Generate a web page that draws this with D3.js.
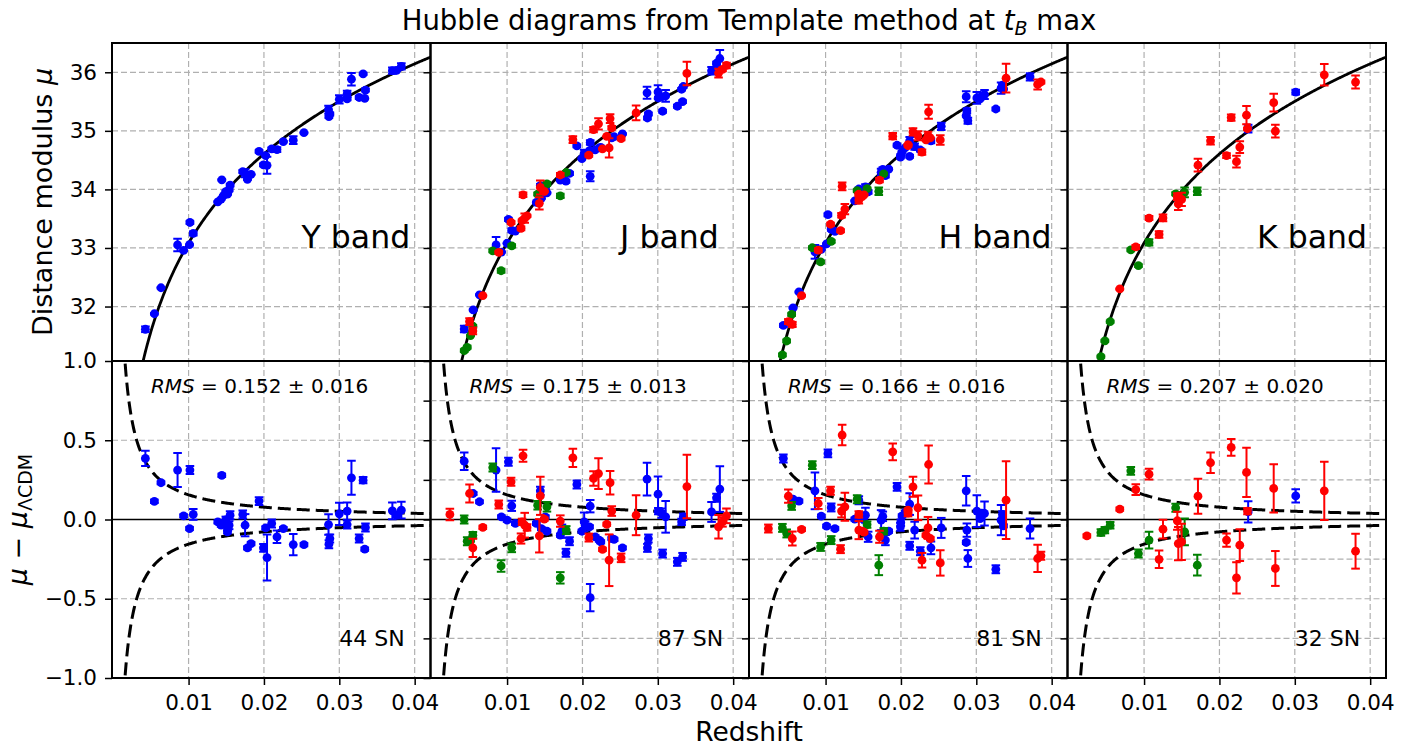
<!DOCTYPE html>
<html>
<head>
<meta charset="utf-8">
<script src="https://cdn.jsdelivr.net/npm/d3@7"></script>
<style>
  body { margin: 0; background: #fff; }
  text { font-family: "DejaVu Sans", sans-serif; fill: #000; }
</style>
</head>
<body>
<svg id="fig" width="1415" height="748"></svg>
<script>
// ---- data: [redshift, mu - mu_LCDM, error, colour] ----
const bandNames = ['Y band', 'J band', 'H band', 'K band'];
const rmsLabels = ['0.152 \u00b1 0.016', '0.175 \u00b1 0.013', '0.166 \u00b1 0.016', '0.207 \u00b1 0.020'];
const snCounts = [44, 87, 81, 32];
const xTicks = [0.01, 0.02, 0.03, 0.04];
const muTicks = [32, 33, 34, 35, 36];
const resTicksFirst = [-1, -0.5, 0, 0.5, 1];
const resTicksOther = [-1, -0.75, -0.5, -0.25, 0, 0.25, 0.5, 0.75, 1];

const bandY = [
  [0.00427, 0.385, 0.048, 'b'], [0.00546, 0.114, 0.01, 'b'], [0.00634, 0.232, 0.01, 'b'],
  [0.00854, 0.312, 0.107, 'b'], [0.01018, 0.312, 0.025, 'b'], [0.00934, 0.023, 0.01, 'b'],
  [0.01062, 0.032, 0.034, 'b'], [0.01013, -0.057, 0.01, 'b'], [0.01441, 0.278, 0.01, 'b'],
  [0.01388, -0.015, 0.01, 'b'], [0.01463, -0.025, 0.01, 'b'], [0.01516, -0.078, 0.01, 'b'],
  [0.01538, -0.036, 0.025, 'b'], [0.01551, 0.027, 0.025, 'b'], [0.01432, -0.036, 0.01, 'b'],
  [0.01494, -0.002, 0.02, 'b'], [0.0152, -0.06, 0.01, 'b'], [0.01719, 0.032, 0.025, 'b'],
  [0.0175, -0.036, 0.07, 'b'], [0.01781, -0.179, 0.01, 'b'], [0.01829, -0.152, 0.01, 'b'],
  [0.01935, 0.116, 0.025, 'b'], [0.01993, -0.179, 0.025, 'b'], [0.02041, -0.24, 0.145, 'b'],
  [0.02023, -0.053, 0.01, 'b'], [0.02103, -0.025, 0.025, 'b'], [0.02173, -0.109, 0.04, 'b'],
  [0.02257, -0.057, 0.01, 'b'], [0.02389, -0.158, 0.067, 'b'], [0.02531, -0.158, 0.01, 'b'],
  [0.02857, -0.032, 0.065, 'b'], [0.02875, -0.12, 0.025, 'b'], [0.02862, -0.156, 0.025, 'b'],
  [0.03, 0.036, 0.07, 'b'], [0.03104, 0.053, 0.055, 'b'], [0.03104, -0.032, 0.025, 'b'],
  [0.03161, 0.263, 0.107, 'b'], [0.03316, 0.248, 0.02, 'b'], [0.03263, -0.12, 0.025, 'b'],
  [0.03338, -0.187, 0.01, 'b'], [0.03347, -0.05, 0.025, 'b'], [0.03704, 0.055, 0.053, 'b'],
  [0.03823, 0.059, 0.053, 'b'], [0.0376, 0.027, 0.01, 'b']
];

const bandJ = [
  [0.00241, 0.032, 0.036, 'r'], [0.00502, 0.164, 0.057, 'r'], [0.00546, -0.179, 0.057, 'r'],
  [0.00678, -0.05, 0.01, 'r'], [0.0089, 0.095, 0.025, 'r'], [0.01053, 0.238, 0.025, 'r'],
  [0.01212, 0.402, 0.038, 'r'], [0.01185, -0.12, 0.032, 'r'], [0.01234, -0.036, 0.078, 'r'],
  [0.01199, -0.015, 0.02, 'r'], [0.01441, 0.149, 0.12, 'r'], [0.01428, -0.103, 0.105, 'r'],
  [0.01494, 0.002, 0.01, 'r'], [0.01706, -0.01, 0.036, 'r'], [0.01873, 0.389, 0.057, 'r'],
  [0.02147, 0.259, 0.046, 'r'], [0.02213, 0.29, 0.097, 'r'], [0.02367, 0.232, 0.074, 'r'],
  [0.02389, 0.053, 0.03, 'r'], [0.02323, -0.03, 0.01, 'r'], [0.02266, -0.189, 0.01, 'r'],
  [0.02354, -0.257, 0.163, 'r'], [0.02513, -0.242, 0.027, 'r'], [0.02085, -0.114, 0.025, 'r'],
  [0.02712, 0.027, 0.126, 'r'], [0.03386, 0.208, 0.2, 'r'], [0.03806, -0.046, 0.074, 'r'],
  [0.03858, -0.015, 0.03, 'r'], [0.03911, 0.023, 0.046, 'r'], [0.01265, -0.05, 0.02, 'r'],
  [0.00431, 0.0, 0.025, 'g'], [0.00471, -0.137, 0.025, 'g'], [0.00546, -0.099, 0.02, 'g'],
  [0.00515, -0.13, 0.01, 'g'], [0.0081, 0.328, 0.025, 'g'], [0.01062, -0.179, 0.027, 'g'],
  [0.00921, -0.293, 0.036, 'g'], [0.01406, 0.09, 0.027, 'g'], [0.01529, 0.08, 0.03, 'g'],
  [0.01785, -0.067, 0.025, 'g'], [0.01706, -0.368, 0.036, 'g'],
  [0.00431, 0.368, 0.055, 'b'], [0.0055, 0.164, 0.01, 'b'], [0.00634, 0.112, 0.01, 'b'],
  [0.00854, 0.312, 0.137, 'b'], [0.01018, 0.364, 0.025, 'b'], [0.01062, 0.086, 0.032, 'b'],
  [0.00925, 0.017, 0.01, 'b'], [0.01, -0.004, 0.01, 'b'], [0.0111, -0.025, 0.01, 'b'],
  [0.01441, 0.181, 0.025, 'b'], [0.01388, -0.025, 0.01, 'b'], [0.01507, 0.017, 0.01, 'b'],
  [0.01529, -0.074, 0.01, 'b'], [0.01728, -0.074, 0.042, 'b'], [0.01781, -0.21, 0.025, 'b'],
  [0.01829, -0.137, 0.025, 'b'], [0.01926, 0.221, 0.025, 'b'], [0.02023, -0.015, 0.059, 'b'],
  [0.01993, -0.074, 0.01, 'b'], [0.02103, 0.084, 0.039, 'b'], [0.02094, -0.046, 0.01, 'b'],
  [0.02169, -0.109, 0.01, 'b'], [0.02244, -0.141, 0.01, 'b'], [0.02103, -0.493, 0.086, 'b'],
  [0.02389, -0.12, 0.01, 'b'], [0.0242, -0.126, 0.01, 'b'], [0.02531, -0.179, 0.01, 'b'],
  [0.02857, 0.255, 0.103, 'b'], [0.02875, -0.12, 0.025, 'b'], [0.02862, -0.179, 0.025, 'b'],
  [0.03003, 0.16, 0.112, 'b'], [0.03007, 0.053, 0.02, 'b'], [0.03104, 0.017, 0.1, 'b'],
  [0.03064, -0.215, 0.025, 'b'], [0.03259, -0.267, 0.025, 'b'], [0.03329, -0.236, 0.025, 'b'],
  [0.03316, -0.015, 0.02, 'b'], [0.03338, 0.017, 0.02, 'b'], [0.03713, 0.048, 0.063, 'b'],
  [0.03779, 0.137, 0.025, 'b'], [0.03823, 0.192, 0.144, 'b'], [0.01454, -0.057, 0.01, 'b'],
  [0.01706, -0.099, 0.01, 'b'], [0.02036, -0.036, 0.025, 'b'], [0.02222, -0.13, 0.01, 'b'],
  [0.03051, 0.04, 0.03, 'b']
];

const bandH = [
  [0.00241, -0.057, 0.025, 'r'], [0.00506, 0.147, 0.042, 'r'], [0.00559, -0.12, 0.044, 'r'],
  [0.00682, -0.063, 0.01, 'r'], [0.00903, 0.101, 0.034, 'r'], [0.01066, 0.181, 0.025, 'r'],
  [0.0122, 0.533, 0.065, 'r'], [0.01212, 0.053, 0.04, 'r'], [0.01256, 0.08, 0.088, 'r'],
  [0.01199, -0.187, 0.025, 'r'], [0.01441, 0.032, 0.02, 'r'], [0.01441, -0.067, 0.057, 'r'],
  [0.01485, -0.074, 0.01, 'r'], [0.01715, -0.109, 0.038, 'r'], [0.01891, 0.427, 0.053, 'r'],
  [0.0216, 0.206, 0.063, 'r'], [0.02094, 0.059, 0.01, 'r'], [0.02226, 0.074, 0.078, 'r'],
  [0.02367, 0.347, 0.12, 'r'], [0.02359, -0.053, 0.069, 'r'], [0.02332, -0.099, 0.01, 'r'],
  [0.02389, -0.12, 0.01, 'r'], [0.02279, -0.257, 0.046, 'r'], [0.02522, -0.274, 0.08, 'r'],
  [0.03395, 0.122, 0.245, 'r'], [0.03814, -0.246, 0.086, 'r'], [0.03858, -0.229, 0.025, 'r'],
  [0.0151, -0.08, 0.01, 'r'], [0.02094, 0.04, 0.02, 'r'],
  [0.00427, -0.053, 0.025, 'g'], [0.00484, -0.088, 0.025, 'g'], [0.0055, 0.086, 0.025, 'g'],
  [0.00824, 0.343, 0.025, 'g'], [0.00934, -0.173, 0.025, 'g'], [0.01075, -0.13, 0.025, 'g'],
  [0.01419, 0.128, 0.025, 'g'], [0.01551, -0.032, 0.02, 'g'], [0.01772, -0.074, 0.02, 'g'],
  [0.01706, -0.288, 0.063, 'g'],
  [0.0044, 0.385, 0.025, 'b'], [0.00568, 0.128, 0.01, 'b'], [0.00647, 0.116, 0.01, 'b'],
  [0.00859, 0.181, 0.116, 'b'], [0.01031, 0.417, 0.025, 'b'], [0.01075, 0.076, 0.025, 'b'],
  [0.00943, 0.021, 0.01, 'b'], [0.01013, -0.042, 0.01, 'b'], [0.01124, -0.057, 0.01, 'b'],
  [0.01441, 0.122, 0.025, 'b'], [0.01388, 0.002, 0.01, 'b'], [0.01529, 0.027, 0.047, 'b'],
  [0.01565, -0.109, 0.032, 'b'], [0.01737, -0.004, 0.063, 'b'], [0.01794, -0.13, 0.032, 'b'],
  [0.01838, -0.074, 0.01, 'b'], [0.01948, 0.206, 0.025, 'b'], [0.02015, 0.023, 0.01, 'b'],
  [0.01993, -0.046, 0.025, 'b'], [0.02116, 0.097, 0.068, 'b'], [0.02116, -0.166, 0.025, 'b'],
  [0.02182, -0.067, 0.053, 'b'], [0.02257, -0.2, 0.025, 'b'], [0.02398, -0.179, 0.04, 'b'],
  [0.02535, -0.053, 0.063, 'b'], [0.02866, 0.181, 0.093, 'b'], [0.02875, -0.067, 0.042, 'b'],
  [0.02866, -0.145, 0.01, 'b'], [0.02888, -0.246, 0.053, 'b'], [0.03007, 0.053, 0.1, 'b'],
  [0.03109, 0.038, 0.076, 'b'], [0.03051, 0.006, 0.01, 'b'], [0.03259, -0.314, 0.025, 'b'],
  [0.03329, -0.004, 0.095, 'b'], [0.03347, 0.032, 0.02, 'b'], [0.03713, -0.057, 0.063, 'b'],
  [0.0336, -0.04, 0.01, 'b'], [0.015, 0.002, 0.01, 'b'], [0.01759, 0.02, 0.03, 'b'],
  [0.02058, 0.046, 0.01, 'b'], [0.03073, 0.04, 0.02, 'b'], [0.01998, -0.02, 0.02, 'b']
];

const bandK = [
  [0.00241, -0.103, 0.01, 'r'], [0.00678, 0.065, 0.01, 'r'], [0.0089, 0.189, 0.034, 'r'],
  [0.01066, 0.286, 0.034, 'r'], [0.01199, -0.251, 0.055, 'r'], [0.01251, -0.061, 0.059, 'r'],
  [0.01441, -0.008, 0.057, 'r'], [0.01454, -0.152, 0.105, 'r'], [0.01498, -0.141, 0.114, 'r'],
  [0.01715, 0.147, 0.11, 'r'], [0.01882, 0.358, 0.065, 'r'], [0.02094, -0.13, 0.042, 'r'],
  [0.02156, 0.455, 0.053, 'r'], [0.0227, -0.162, 0.1, 'r'], [0.02226, -0.368, 0.099, 'r'],
  [0.02359, 0.297, 0.155, 'r'], [0.02372, 0.053, 0.02, 'r'], [0.0272, 0.196, 0.152, 'r'],
  [0.02742, -0.309, 0.11, 'r'], [0.03391, 0.181, 0.184, 'r'], [0.03806, -0.2, 0.11, 'r'],
  [0.00427, -0.082, 0.02, 'g'], [0.0048, -0.067, 0.02, 'g'], [0.0055, -0.036, 0.02, 'g'],
  [0.00824, 0.307, 0.025, 'g'], [0.00925, -0.215, 0.025, 'g'], [0.01066, -0.13, 0.053, 'g'],
  [0.01419, 0.074, 0.025, 'g'], [0.01538, -0.078, 0.084, 'g'], [0.01706, -0.288, 0.065, 'g'],
  [0.02381, 0.048, 0.067, 'b'], [0.03012, 0.149, 0.042, 'b']
];

const bands = [bandY, bandJ, bandH, bandK];
const colours = { b: '#0000ff', g: '#008000', r: '#ff0000' };
const drawOrder = ['b', 'g', 'r'];

// LCDM low-z model and peculiar velocity envelope
const C_KMS = 299792.458, H0 = 73, Q0 = -0.55, SIGMA_V = 215;
const muModel = z => 5 * Math.log10(C_KMS * z / H0 * (1 + (1 - Q0) / 2 * z)) + 25;
const sigmaPec = z => 5 / Math.LN10 * SIGMA_V / (C_KMS * z);
const zGrid = d3.range(0.0008, 0.0426, 0.0001);

// ---- layout ----
const svg = d3.select('#fig');
const pLeft = 112, pRight = 1386, pTop = 43, pMid = 361, pBottom = 678;
const colW = (pRight - pLeft) / 4;

const yTop = d3.scaleLinear().domain([31.07, 36.5]).range([pMid, pTop]);
const yBot = d3.scaleLinear().domain([-1, 1]).range([pBottom, pMid]);

const gridStyle = sel => sel.attr('stroke', '#b0b0b0').attr('stroke-width', 1.2)
  .attr('stroke-dasharray', '6,3').attr('fill', 'none');

function styleAxis(g) {
  g.select('.domain').remove();
  g.selectAll('.tick line').attr('stroke', '#000').attr('stroke-width', 1.5);
  g.selectAll('.tick text').attr('font-family', '"DejaVu Sans", sans-serif')
    .attr('font-size', '21.5px').attr('fill', '#000');
}

function drawPoints(g, data, x, y, valueOf) {
  const sorted = drawOrder.flatMap(c => data.filter(d => d[3] === c));
  const pt = g.append('g').selectAll('g').data(sorted).enter().append('g')
    .attr('stroke', d => colours[d[3]]).attr('fill', d => colours[d[3]]);
  pt.append('line')
    .attr('x1', d => x(d[0])).attr('x2', d => x(d[0]))
    .attr('y1', d => y(valueOf(d) - d[2])).attr('y2', d => y(valueOf(d) + d[2]))
    .attr('stroke-width', 2);
  [-1, 1].forEach(s => {
    pt.append('line')
      .attr('x1', d => x(d[0]) - 4.3).attr('x2', d => x(d[0]) + 4.3)
      .attr('y1', d => y(valueOf(d) + s * d[2])).attr('y2', d => y(valueOf(d) + s * d[2]))
      .attr('stroke-width', 2);
  });
  pt.append('circle')
    .attr('cx', d => x(d[0])).attr('cy', d => y(valueOf(d)))
    .attr('r', 4.4).attr('stroke', 'none');
}

bands.forEach((data, i) => {
  const x0 = pLeft + i * colW;
  const x = d3.scaleLinear().domain([-0.00016, 0.0421]).range([x0, x0 + colW]);
  const resTicks = i === 0 ? resTicksFirst : resTicksOther;

  const defs = svg.append('defs');
  defs.append('clipPath').attr('id', `clipT${i}`).append('rect')
    .attr('x', x0).attr('y', pTop).attr('width', colW).attr('height', pMid - pTop);
  defs.append('clipPath').attr('id', `clipB${i}`).append('rect')
    .attr('x', x0).attr('y', pMid).attr('width', colW).attr('height', pBottom - pMid);

  // ---------- upper panel: Hubble diagram ----------
  const gt = svg.append('g').attr('clip-path', `url(#clipT${i})`);
  gt.selectAll('.gx').data(xTicks).enter().append('line')
    .attr('x1', d => x(d)).attr('x2', d => x(d)).attr('y1', pTop).attr('y2', pMid).call(gridStyle);
  gt.selectAll('.gy').data(muTicks).enter().append('line')
    .attr('x1', x0).attr('x2', x0 + colW).attr('y1', d => yTop(d)).attr('y2', d => yTop(d)).call(gridStyle);
  gt.append('path').datum(zGrid)
    .attr('d', d3.line().x(z => x(z)).y(z => yTop(muModel(z))))
    .attr('fill', 'none').attr('stroke', '#000').attr('stroke-width', 2.8);
  drawPoints(gt, data, x, yTop, d => muModel(d[0]) + d[1]);

  // ---------- lower panel: residuals ----------
  const gb = svg.append('g').attr('clip-path', `url(#clipB${i})`);
  gb.selectAll('.gx').data(xTicks).enter().append('line')
    .attr('x1', d => x(d)).attr('x2', d => x(d)).attr('y1', pMid).attr('y2', pBottom).call(gridStyle);
  gb.selectAll('.gy').data(resTicks.filter(v => Math.abs(v) < 1 && v !== 0)).enter().append('line')
    .attr('x1', x0).attr('x2', x0 + colW).attr('y1', d => yBot(d)).attr('y2', d => yBot(d)).call(gridStyle);
  gb.append('line').attr('x1', x0).attr('x2', x0 + colW)
    .attr('y1', yBot(0)).attr('y2', yBot(0)).attr('stroke', '#000').attr('stroke-width', 1.6);
  [1, -1].forEach(s => {
    gb.append('path').datum(zGrid)
      .attr('d', d3.line().x(z => x(z)).y(z => yBot(Math.max(-1.2, Math.min(1.2, s * sigmaPec(z))))))
      .attr('fill', 'none').attr('stroke', '#000').attr('stroke-width', 3)
      .attr('stroke-dasharray', '13,6');
  });
  drawPoints(gb, data, x, yBot, d => d[1]);

  // ---------- frames ----------
  [[pTop, pMid], [pMid, pBottom]].forEach(([a, b]) => {
    svg.append('rect').attr('x', x0).attr('y', a).attr('width', colW).attr('height', b - a)
      .attr('fill', 'none').attr('stroke', '#000').attr('stroke-width', 2);
  });

  // ---------- axes ----------
  const axT = d3.axisLeft(yTop).tickValues(muTicks).tickSize(7).tickPadding(8)
    .tickFormat(i === 0 ? d3.format('d') : () => '');
  svg.append('g').attr('transform', `translate(${x0},0)`).call(axT).call(styleAxis);
  const axB = d3.axisLeft(yBot).tickValues(resTicks).tickSize(7).tickPadding(8)
    .tickFormat(i === 0 ? d3.format('.1f') : () => '');
  svg.append('g').attr('transform', `translate(${x0},0)`).call(axB).call(styleAxis);
  const axX = d3.axisBottom(x).tickValues(xTicks).tickSize(7).tickPadding(10)
    .tickFormat(d3.format('.2f'));
  svg.append('g').attr('transform', `translate(0,${pBottom})`).call(axX).call(styleAxis);

  // ---------- annotations ----------
  svg.append('text').attr('x', x(0.025)).attr('y', yTop(33))
    .attr('font-size', '31.5px').text(bandNames[i]);
  const rms = svg.append('text').attr('x', x(0.005)).attr('y', yBot(0.8)).attr('font-size', '20px');
  rms.append('tspan').attr('font-style', 'italic').text('RMS');
  rms.append('tspan').text(` = ${rmsLabels[i]}`);
  svg.append('text').attr('x', x(0.03)).attr('y', yBot(-0.8))
    .attr('font-size', '22px').text(`${snCounts[i]} SN`);
});

// ---------- titles ----------
const title = svg.append('text').attr('x', (pLeft + pRight) / 2).attr('y', 30)
  .attr('text-anchor', 'middle').attr('font-size', '27.5px');
title.append('tspan').text('Hubble diagrams from Template method at ');
title.append('tspan').attr('font-style', 'italic').text('t');
title.append('tspan').attr('font-style', 'italic').attr('font-size', '19px').attr('dy', 5).text('B');
title.append('tspan').attr('dy', -5).text(' max');

svg.append('text').attr('x', (pLeft + pRight) / 2).attr('y', 741)
  .attr('text-anchor', 'middle').attr('font-size', '26.5px').text('Redshift');

const yl1 = svg.append('text').attr('transform', `translate(51.5,${(pTop + pMid) / 2}) rotate(-90)`)
  .attr('text-anchor', 'middle').attr('font-size', '27px');
yl1.append('tspan').text('Distance modulus ');
yl1.append('tspan').attr('font-style', 'italic').text('\u03bc');

const yl2 = svg.append('text').attr('transform', `translate(26.5,${(pMid + pBottom) / 2}) rotate(-90)`)
  .attr('text-anchor', 'middle').attr('font-size', '27px');
yl2.append('tspan').attr('font-style', 'italic').text('\u03bc');
yl2.append('tspan').text(' \u2212 ');
yl2.append('tspan').attr('font-style', 'italic').text('\u03bc');
yl2.append('tspan').attr('font-size', '19px').attr('dy', 5).text('\u039bCDM');
</script>
</body>
</html>
